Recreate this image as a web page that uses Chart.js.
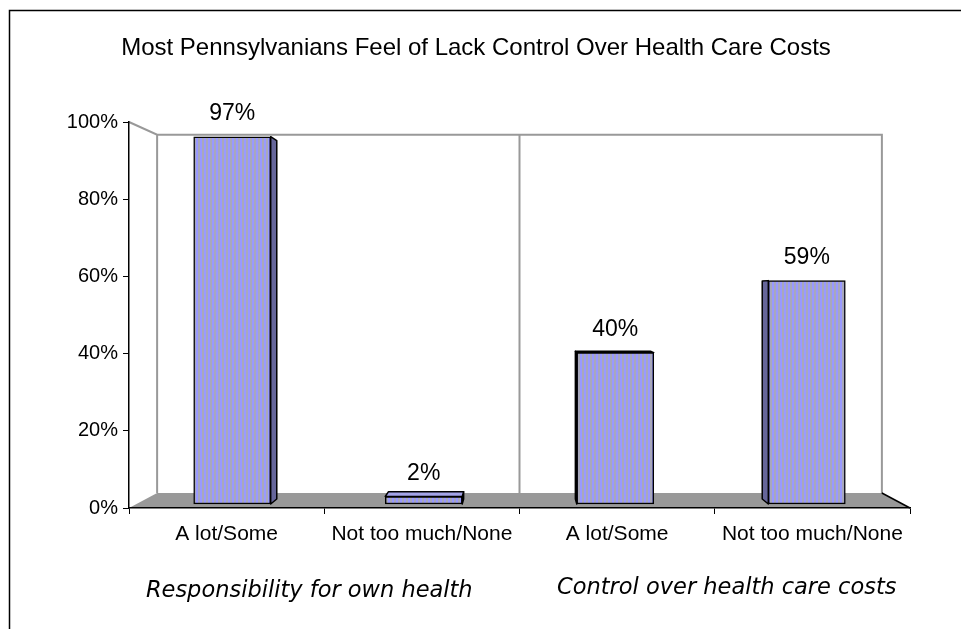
<!DOCTYPE html>
<html>
<head>
<meta charset="utf-8">
<title>Most Pennsylvanians Feel of Lack Control Over Health Care Costs</title>
<script src="https://cdn.jsdelivr.net/npm/chart.js@4.4.1/dist/chart.umd.min.js"></script>
<style>
html,body{margin:0;padding:0;background:#fff;}
#wrap{position:relative;width:961px;height:629px;}
</style>
</head>
<body>
<div id="wrap"><canvas id="chart"></canvas></div>
<script>
/* ---------- data ---------- */
const chartTitle = 'Most Pennsylvanians Feel of Lack Control Over Health Care Costs';
const categories = ['A lot/Some', 'Not too much/None', 'A lot/Some', 'Not too much/None'];
const groups = ['Responsibility for own health', 'Control over health care costs'];
const values = [97, 2, 40, 59];
const yTicks = [0, 20, 40, 60, 80, 100];

/* ---------- 3d look ---------- */
const HORIZON = 54;      // eye level, in % of the front value axis
const BACK = 0.928;      // back wall scale vs. the front plane
const BAR_FRONT = 0.981; // bar front faces sit just behind the front plane
const BAR_BACK = 0.957;
const FONT = "'Liberation Sans', Arial, sans-serif";

const ctx0 = document.getElementById('chart').getContext('2d');
function stripes(){
  const c = document.createElement('canvas');
  c.width = 4; c.height = 1;
  const g = c.getContext('2d');
  g.fillStyle = '#9999ff'; g.fillRect(0, 0, 2, 1);
  g.fillStyle = '#a8a8bc'; g.fillRect(2, 0, 2, 1);
  return ctx0.createPattern(c, 'repeat');
}

function poly(ctx, pts){
  ctx.beginPath();
  pts.forEach((p, i) => i ? ctx.lineTo(p[0], p[1]) : ctx.moveTo(p[0], p[1]));
  ctx.closePath();
  ctx.fill();
  ctx.stroke();
}

const box3d = {
  id: 'box3d',
  beforeDraw(chart){
    const {ctx, chartArea: a, scales} = chart;
    const vx = (a.left + a.right) / 2, vy = scales.y.getPixelForValue(HORIZON);
    const back = (px, py) => [vx + BACK * (px - vx), vy + BACK * (py - vy)];
    const [bl, bt] = back(a.left, a.top);
    const [br, bb] = back(a.right, a.bottom);
    ctx.save();
    // frame
    ctx.strokeStyle = '#000'; ctx.lineWidth = 1.5;
    ctx.strokeRect(9.5, 10.5, chart.width, chart.height);
    // title
    ctx.fillStyle = '#000';
    ctx.font = '24px ' + FONT;
    ctx.textAlign = 'center'; ctx.textBaseline = 'middle';
    ctx.fillText(chartTitle, 476, 48);
    // floor
    ctx.fillStyle = '#999999';
    ctx.beginPath();
    ctx.moveTo(a.left, a.bottom); ctx.lineTo(a.right, a.bottom);
    ctx.lineTo(br, bb); ctx.lineTo(bl, bb);
    ctx.closePath(); ctx.fill();
    // walls
    ctx.strokeStyle = '#999999'; ctx.lineWidth = 2;
    ctx.beginPath();
    ctx.moveTo(a.left, a.top); ctx.lineTo(bl, bt); ctx.lineTo(br, bt); ctx.lineTo(br, bb);
    ctx.moveTo(bl, bt); ctx.lineTo(bl, bb);
    const [dx] = back(scales.x.getPixelForValue(1.5), a.bottom);
    ctx.moveTo(dx, bt); ctx.lineTo(dx, bb);
    ctx.stroke();
    // right floor edge
    ctx.strokeStyle = '#000'; ctx.lineWidth = 1.5;
    ctx.beginPath(); ctx.moveTo(a.right, a.bottom); ctx.lineTo(br, bb); ctx.stroke();
    ctx.restore();
  },
  beforeDatasetsDraw(chart){
    const {ctx, chartArea: a, scales} = chart;
    const vx = (a.left + a.right) / 2, vy = scales.y.getPixelForValue(HORIZON);
    const k = BAR_BACK / BAR_FRONT;
    const bk = (px, py) => [vx + k * (px - vx), vy + k * (py - vy)];
    ctx.save();
    ctx.strokeStyle = '#000'; ctx.lineWidth = 1.5; ctx.lineJoin = 'round';
    chart.getDatasetMeta(0).data.forEach(bar => {
      const {x, y, base, width} = bar.getProps(['x', 'y', 'base', 'width'], true);
      const l = x - width / 2, r = x + width / 2;
      const sx = x < vx ? r : l;
      ctx.fillStyle = '#66669a';
      poly(ctx, [[sx, y], [sx, base], bk(sx, base), bk(sx, y)]);
      if (y > vy){
        ctx.fillStyle = '#a4a4e8';
        poly(ctx, [[l, y], [r, y], bk(r, y), bk(l, y)]);
      }
    });
    ctx.restore();
  },
  afterDatasetsDraw(chart){
    const {ctx, scales} = chart;
    ctx.save();
    ctx.fillStyle = '#000';
    ctx.textAlign = 'center'; ctx.textBaseline = 'middle';
    ctx.font = '23px ' + FONT;
    chart.getDatasetMeta(0).data.forEach((bar, i) => {
      ctx.fillText(values[i] + '%', bar.x, bar.y - 23);
    });
    // question groups under the category labels
    ctx.font = "italic 22.5px 'DejaVu Sans', Verdana, sans-serif";
    const shift = [[-15, 1.5], [12, -1.5]];
    groups.forEach((g, i) => {
      const cx = (scales.x.getPixelForValue(i * 2) + scales.x.getPixelForValue(i * 2 + 1)) / 2;
      ctx.fillText(g, cx + shift[i][0], 590 + shift[i][1]);
    });
    ctx.restore();
  }
};

Chart.defaults.font.family = FONT;
Chart.defaults.color = '#000';

new Chart(ctx0, {
  type: 'bar',
  data: {
    labels: categories,
    datasets: [{
      data: values.map((v, i) => ({x: i, y: v})),
      xAxisID: 'xBar',
      yAxisID: 'yBar',
      backgroundColor: stripes(),
      borderColor: '#000',
      borderWidth: 1.5,
      borderSkipped: false,
      barThickness: 77
    }]
  },
  options: {
    responsive: true,
    maintainAspectRatio: false,
    animation: false,
    layout: {padding: {left: 0, right: 51, top: 122, bottom: 0}},
    plugins: {legend: {display: false}, tooltip: {enabled: false}, title: {display: false}},
    scales: {
      x: {
        type: 'category',
        offset: true,
        grid: {offset: true, drawOnChartArea: false, color: '#000', tickLength: 6},
        border: {color: '#000', width: 1.5},
        ticks: {font: {size: 21}, padding: 8, maxRotation: 0, autoSkip: false},
        afterFit: s => { s.height = 121; }
      },
      y: {
        type: 'linear',
        min: yTicks[0],
        max: yTicks[yTicks.length - 1],
        afterBuildTicks: s => { s.ticks = yTicks.map(v => ({value: v})); },
        grid: {drawOnChartArea: false, color: '#000', tickLength: 6},
        border: {color: '#000', width: 1.5},
        ticks: {font: {size: 20}, padding: 5, callback: v => v + '%'},
        afterFit: s => { s.width = 129; }
      },
      xBar: {
        type: 'linear', display: false, offset: false,
        grid: {offset: false},
        min: 1.5 - 2 / BAR_FRONT,
        max: 1.5 + 2 / BAR_FRONT
      },
      yBar: {
        type: 'linear', display: false,
        min: HORIZON - HORIZON / BAR_FRONT,
        max: HORIZON + (100 - HORIZON) / BAR_FRONT
      }
    }
  },
  plugins: [box3d]
});
</script>
</body>
</html>
